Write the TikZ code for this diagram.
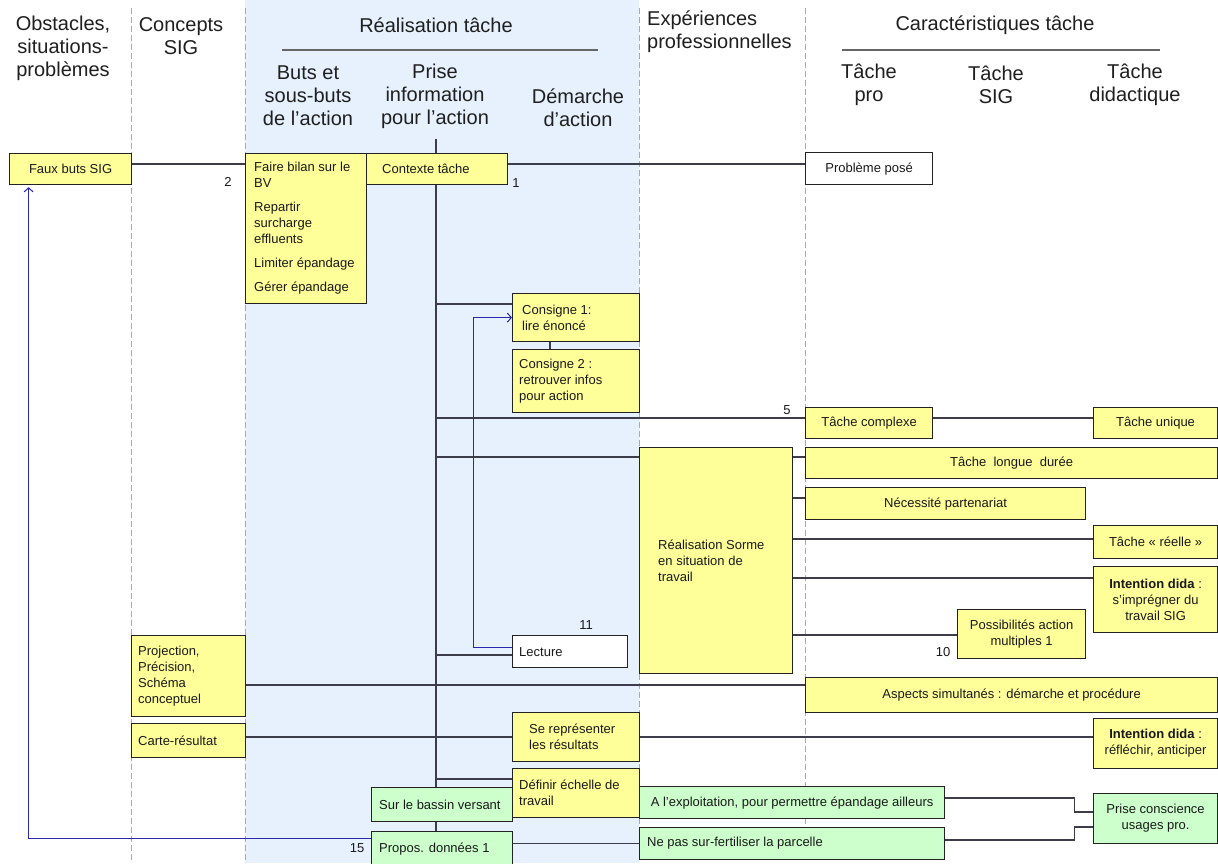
\documentclass[tikz,border=0pt]{standalone}
\usepackage{fontspec}
\setmainfont{Liberation Sans}
\usetikzlibrary{arrows.meta}
\pgfdeclarelayer{bg}
\pgfdeclarelayer{lines}
\pgfsetlayers{bg,lines,main}
\definecolor{yel}{RGB}{255,255,153}
\definecolor{grn}{RGB}{204,255,204}
\definecolor{band}{RGB}{230,241,253}
\definecolor{bord}{RGB}{35,35,35}
\definecolor{connc}{RGB}{60,60,75}
\definecolor{blu}{RGB}{40,40,170}
\definecolor{divc}{RGB}{170,170,170}
\newcommand\bfnt{\fontsize{13}{16}\selectfont}
\newcommand\hfnt{\fontsize{20}{23}\selectfont}
\newcommand\mkbox[6]{%
  \pgfmathsetmacro\bxw{#4-#2}\pgfmathsetmacro\bxh{#5-#3}%
  \node[#6, anchor=north west, minimum width=\bxw pt, minimum height=\bxh pt, inner sep=0pt] (#1) at (#2,#3) {};}
\newcommand\ltext[3]{\node[txt, anchor=west, align=left] (#1-t) at ([xshift=#2pt]#1.west) {#3};}
\newcommand\ctext[2]{\node[txt, align=center] (#1-t) at (#1.center) {#2};}
\tikzset{
  ybox/.style={draw=bord, line width=1.2pt, fill=yel},
  gbox/.style={draw=bord, line width=1.2pt, fill=grn},
  wbox/.style={draw=bord, line width=1.2pt, fill=white},
  txt/.style={font=\bfnt, inner sep=0pt, text=black!90},
  hd/.style={font=\hfnt, inner sep=0pt, text=black!88, align=center},
  conn/.style={draw=connc, line width=1.3pt},
  bconn/.style={draw=blu, line width=1pt},
  divl/.style={draw=divc, line width=1pt, dash pattern=on 6pt off 3pt},
  num/.style={font=\bfnt, inner sep=0pt, text=black!90},
  rule/.style={draw=black!60, line width=2pt},
}
\begin{document}
\begin{tikzpicture}[x=1pt,y=-1pt]
\useasboundingbox (0,0) rectangle (1218,863);
\begin{pgfonlayer}{bg}
  \fill[white] (0,0) rectangle (1218,863);
  \fill[band] (245,0) rectangle (639,863);
  \foreach \xx in {131,245,639,805} \draw[divl] (\xx,8) -- (\xx,863);
\end{pgfonlayer}

% headers
\node[hd] (hObs) at (63,48) {Obstacles,\\situations-\\problèmes};
\node[hd] (hCon) at (181,36.5) {Concepts\\SIG};
\node[hd] (hReal) at (436,25) {Réalisation tâche};
\draw[rule] (282,50) -- (598,50);
\node[hd] (hButs) at (308,96) {Buts et\\sous-buts\\de l’action};
\node[hd] (hPrise) at (435,96) {Prise\\information\\pour l’action};
\node[hd] (hDem) at (578,107.5) {Démarche\\d’action};
\node[hd, align=left, anchor=west] (hExp) at (647,32) {Expériences\\professionnelles};
\node[hd] (hCar) at (995,25) {Caractéristiques tâche};
\draw[rule] (842,50) -- (1160,50);
\node[hd] (hTp) at (869,84.5) {Tâche\\pro};
\node[hd] (hTs) at (996,84.5) {Tâche\\SIG};
\node[hd] (hTd) at (1135,84.5) {Tâche\\didactique};

% boxes
\mkbox{faux}{9}{153}{131}{184}{ybox} \ctext{faux}{Faux buts SIG}
\mkbox{bilan}{245}{153}{366}{303}{ybox}
\ltext{bilan}{9}{Faire bilan sur le\\BV\\[8pt]Repartir\\surcharge\\effluents\\[8pt]Limiter épandage\\[8pt]Gérer épandage}
\mkbox{ctx}{366}{153}{507}{184}{ybox} \ltext{ctx}{16}{Contexte tâche}
\mkbox{prob}{805}{152}{932}{184}{wbox} \ctext{prob}{Problème posé}
\mkbox{c1}{512}{293}{639}{341}{ybox} \ltext{c1}{10}{Consigne 1:\\lire énoncé}
\mkbox{c2}{512}{349}{639}{412}{ybox} \ltext{c2}{7}{Consigne 2 :\\retrouver infos\\pour action}
\mkbox{cplx}{805}{407}{932}{438}{ybox} \ctext{cplx}{Tâche complexe}
\mkbox{uniq}{1093}{407}{1217}{438}{ybox} \ctext{uniq}{Tâche unique}
\mkbox{sorme}{639}{447}{792}{673}{ybox} \ltext{sorme}{19}{Réalisation Sorme\\en situation de\\travail}
\mkbox{longue}{805}{447}{1217}{478}{ybox} \ctext{longue}{Tâche\ \ longue\ \ durée}
\mkbox{nec}{805}{487}{1085}{519}{ybox} \ctext{nec}{Nécessité partenariat}
\mkbox{reel}{1093}{525}{1217}{558}{ybox} \ctext{reel}{Tâche « réelle »}
\mkbox{int1}{1093}{566}{1217}{632}{ybox} \ctext{int1}{\textbf{Intention dida} :\\s’imprégner du\\travail SIG}
\mkbox{poss}{957}{609}{1085}{658}{ybox} \ctext{poss}{Possibilités action\\multiples 1}
\mkbox{lect}{512}{635}{627}{667}{wbox} \ltext{lect}{7}{Lecture}
\mkbox{proj}{131}{635}{245}{716}{ybox} \ltext{proj}{7}{Projection,\\Précision,\\Schéma\\conceptuel}
\mkbox{asp}{805}{677}{1217}{712}{ybox} \ctext{asp}{Aspects simultanés : démarche et procédure}
\mkbox{carte}{131}{723}{245}{757}{ybox} \ltext{carte}{7}{Carte-résultat}
\mkbox{srep}{512}{712}{639}{761}{ybox} \ltext{srep}{17}{Se représenter\\les résultats}
\mkbox{int2}{1093}{718}{1217}{768}{ybox} \ctext{int2}{\textbf{Intention dida} :\\réfléchir, anticiper}
\mkbox{def}{512}{768}{639}{817}{ybox} \ltext{def}{7}{Définir échelle de\\travail}
\mkbox{bass}{371}{787}{512}{821}{gbox} \ltext{bass}{8}{Sur le bassin versant}
\mkbox{prop}{371}{831}{512}{865}{gbox} \ltext{prop}{8}{Propos. données 1}
\mkbox{expl}{639}{786}{944}{818}{gbox} \ctext{expl}{A l'exploitation, pour permettre épandage ailleurs}
\mkbox{nepas}{639}{827}{944}{859}{gbox} \ltext{nepas}{8}{Ne pas sur-fertiliser la parcelle}
\mkbox{prise}{1093}{793}{1217}{843}{gbox} \ctext{prise}{Prise conscience\\usages pro.}

% numbers
\node[num] (n2) at (228,182) {2};
\node[num] (n1) at (516,183) {1};
\node[num] (n5) at (787,410) {5};
\node[num] (n11) at (586,625) {11};
\node[num] (n10) at (943,652) {10};
\node[num] (n15) at (357,848) {15};

% connectors
\coordinate (tt) at (436,139);
\coordinate (fa) at ([yshift=-11pt]faux.north east);
\coordinate (ca) at ([yshift=-11pt]ctx.north east);
\coordinate (c1a) at ([yshift=-11pt]c1.north west);
\coordinate (cxa) at ([yshift=-11pt]cplx.north west);
\coordinate (sa) at ([yshift=-10pt]sorme.north west);
\coordinate (na) at ([yshift=-11pt]nec.north west);
\coordinate (ra) at ([yshift=-14pt]reel.north west);
\coordinate (ia) at ([yshift=-12pt]int1.north west);
\coordinate (pa) at ([yshift=-26pt]poss.north west);
\coordinate (la) at ([yshift=-20pt]lect.north west);
\coordinate (lb) at ([yshift=-12pt]lect.north west);
\coordinate (bxc) at ([xshift=-39pt]c1.west);
\coordinate (pra) at ([yshift=-8pt]asp.north west);
\coordinate (cr) at ([yshift=-14pt]carte.north east);
\coordinate (da) at ([yshift=-11pt]def.north west);
\coordinate (pb) at ([yshift=-7pt]prop.north west);
\coordinate (fx) at ([xshift=19.6pt]faux.south west);
\coordinate (ea) at ([yshift=-12pt]expl.north east);
\coordinate (pe) at ([yshift=-19pt]prise.north west);
\coordinate (nb) at ([yshift=-13pt]nepas.north east);
\coordinate (pf) at ([yshift=-34pt]prise.north west);
\begin{pgfonlayer}{lines}
  \draw[conn] (fa) -- (fa -| bilan.west);
  \draw[conn] (ca) -- (ca -| prob.west);
  \draw[conn] (tt) -- (tt |- prop.north);
  \draw[conn] (tt |- c1a) -- (c1a);
  \draw[conn] ([xshift=38pt]c1.south west) -- ([xshift=38pt]c2.north west);
  \draw[conn] (tt |- cxa) -- (cxa);
  \draw[conn] ([yshift=-11pt]cplx.north east) -- ([yshift=-11pt]uniq.north west);
  \draw[conn] (tt |- sa) -- (sa);
  \draw[conn] ([yshift=-10pt]sorme.north east) -- ([yshift=-10pt]longue.north west);
  \draw[conn] (na -| sorme.east) -- (na);
  \draw[conn] (ra -| sorme.east) -- (ra);
  \draw[conn] (ia -| sorme.east) -- (ia);
  \draw[conn] (pa -| sorme.east) -- (pa);
  \draw[conn] (tt |- la) -- (la);
  \draw[bconn, -{Straight Barb[length=4pt,width=9pt]}] (lb) -| (bxc) -- (c1.west);
  \draw[conn] (pra -| proj.east) -- (pra);
  \draw[conn] (cr) -- (cr -| srep.west);
  \draw[conn] (cr -| srep.east) -- (cr -| int2.west);
  \draw[conn] (tt |- da) -- (da);
  \draw[conn] (nepas.west -| prop.east) -- (nepas.west);
  \draw[bconn, -{Straight Barb[length=4pt,width=9pt]}, shorten >=2pt] (pb) -| (fx);
  \draw[conn] (ea) -- ++(129,0) |- (pe);
  \draw[conn] (nb) -- ++(129,0) |- (pf);
\end{pgfonlayer}
\end{tikzpicture}
\end{document}
